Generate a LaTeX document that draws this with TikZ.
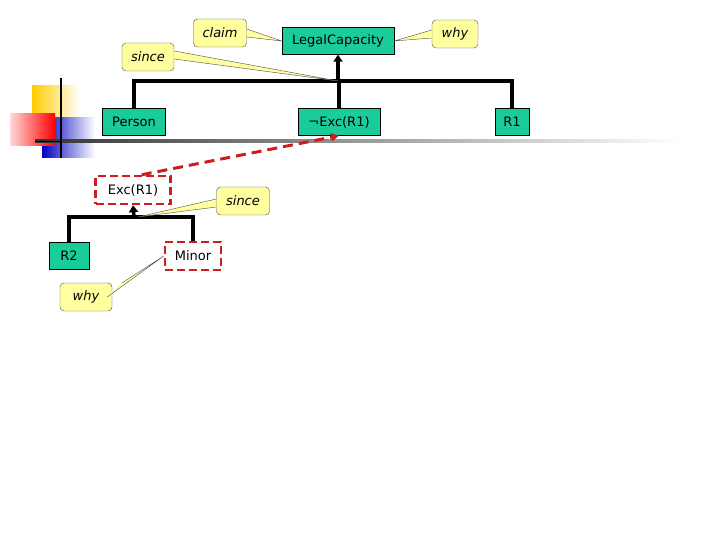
\documentclass[tikz,border=0pt]{standalone}
\usepackage{fontspec}
\setmainfont{DejaVu Sans}
\usetikzlibrary{arrows.meta}
\definecolor{grn}{RGB}{26,204,153}
\definecolor{yel}{RGB}{255,255,160}
\definecolor{dred}{RGB}{204,30,30}
\definecolor{gold}{RGB}{255,204,0}
\begin{document}
\begin{tikzpicture}[x=1pt,y=-1pt,
  box/.style={draw=black,fill=grn,minimum height=27pt,inner xsep=3pt,font=\fontsize{13}{15}\selectfont},
  dbox/.style={draw=dred,line width=2.5pt,dash pattern=on 8pt off 4pt,fill=white,minimum height=28pt,inner xsep=3pt,font=\fontsize{13}{15}\selectfont},
  call/.style={draw=black!70,fill=yel,rounded corners=4pt,minimum height=28pt,font=\itshape\fontsize{13}{15}\selectfont},
  wedge/.style={draw=black!70,fill=yel,line join=round},
  tree/.style={line width=3.5pt},
  arr/.style={line width=3.5pt,-{Triangle[length=7pt,width=9pt]}}]
\useasboundingbox (0,0) rectangle (720,540);
% decoration
\shade[left color=gold,right color=white] (32,86) rectangle (80,118);
\shade[left color=blue!75!black,right color=white] (42,118) rectangle (95,158);
\shade[left color=red!15,right color=red] (10,114) rectangle (55,146);
\shade[left color=black!80,right color=white] (35,140) rectangle (680,143);
\draw[line width=2pt] (61,78) -- (61,158);
\draw[line width=1.5pt] (35,141.5) -- (61,141.5);
% nodes
\node[box,minimum width=112pt] (lc) at (338,41) {LegalCapacity};
\node[box,minimum width=63pt] (person) at (134,122) {Person};
\node[box,minimum width=82pt] (nexc) at (339,122) {¬Exc(R1)};
\node[box,minimum width=34pt] (r1) at (512,122) {R1};
\node[dbox,minimum width=75pt] (exc) at (133,190) {Exc(R1)};
\node[box,minimum width=40pt] (r2) at (69,256) {R2};
\node[dbox,minimum width=56pt] (minor) at (193,256) {Minor};
\coordinate (j1) at (338,81);
\coordinate (j2) at (134,217);
% trees
\draw[tree] (person.north) |- (r1.north |- j1) -- (r1.north);
\draw[tree] (nexc.north) -- (nexc.north |- j1);
\draw[arr] (j1) -- (lc.south);
\draw[tree] (r2.north) |- (minor.north |- j2) -- (minor.north);
\draw[arr] (j2) -- (exc.south);
\draw[dred,line width=3pt,dash pattern=on 10pt off 6pt,-{Triangle[length=8pt,width=8pt]}] (exc.north east) ++(-30,0) -- (nexc.south);
% callouts
\node[call,minimum width=53pt] (claim) at (220,33) {claim};
\node[call,minimum width=52pt] (since1) at (148,57) {since};
\node[call,minimum width=46pt] (why1) at (455,34) {why};
\node[call,minimum width=53pt] (since2) at (243,201) {since};
\node[call,minimum width=52pt] (why2) at (86,297) {why};
\draw[wedge] ([yshift=-4pt]claim.east) -- (lc.west) -- ([yshift=4pt]claim.east);
\draw[wedge] ([yshift=-2pt]since1.east) -- (j1) -- ([yshift=6pt]since1.east);
\draw[wedge] ([yshift=-4pt]why1.west) -- (lc.east) -- ([yshift=4pt]why1.west);
\draw[wedge] ([yshift=-6pt]since2.west) -- ([xshift=4pt]j2) -- ([yshift=2pt]since2.west);
\draw[wedge] ([xshift=10pt]why2.north east) -- (minor.west) -- ([xshift=-5pt]why2.east);
\end{tikzpicture}
\end{document}
